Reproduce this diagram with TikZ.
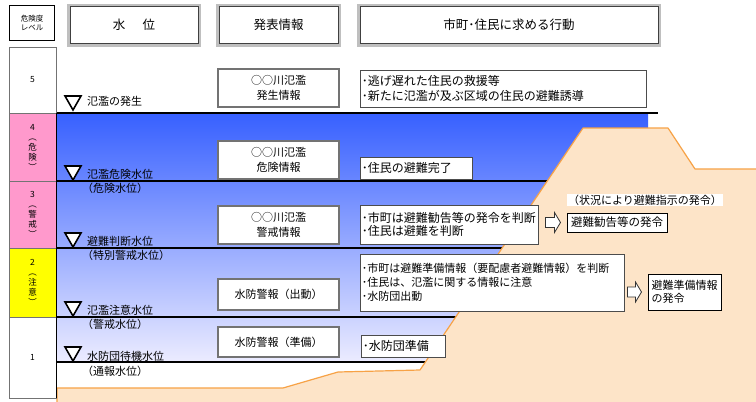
\documentclass[tikz,border=0pt]{standalone}
\usepackage{fontspec}
\setmainfont{Noto Sans CJK JP}
\usetikzlibrary{calc}
\definecolor{peach}{RGB}{253,228,200}
\definecolor{ridge}{RGB}{247,162,70}
\definecolor{lvpink}{RGB}{255,153,204}
\definecolor{lvyellow}{RGB}{255,255,0}
\definecolor{wtop}{RGB}{55,96,255}
\definecolor{wbot}{RGB}{236,236,255}
\newcommand{\mkbarrow}[2]{%
  \draw[barrow] ($(#1)+(0,-5)$) -- ($(#2)+(-6,-5)$) -- ($(#2)+(-6,-10)$) -- (#2)
    -- ($(#2)+(-6,10)$) -- ($(#2)+(-6,5)$) -- ($(#1)+(0,5)$) -- cycle;}
\begin{document}
\begin{tikzpicture}[x=1pt,y=-1pt,
  lvbox/.style={draw=black!55, line width=0.8pt, minimum width=47, minimum height=#1, inner sep=0, font=\fontsize{8.5}{10}\selectfont, align=center},
  hdr/.style={draw=gray!50, line width=3pt, outer sep=0, fill=white, minimum height=40, font=\fontsize{12.5}{14}\selectfont},
  ibox/.style={draw=black!55, line width=1.1pt, fill=white, minimum width=121, align=center, font=\fontsize{11}{14.5}\selectfont},
  abox/.style={draw=black!70, line width=0.9pt, fill=white, inner sep=0},
  atext/.style={anchor=west, align=left, inner sep=0, font=\fontsize{12}{14.5}\selectfont},
  wlab/.style={anchor=west, inner sep=0, font=\fontsize{11}{13}\selectfont},
  wline/.style={line width=1.6pt, black},
  tri/.style={draw=black, line width=1.6pt, fill=white, line join=miter},
  tbox/.style={draw=black, line width=1pt, fill=white, inner xsep=3pt, inner ysep=0, align=left, font=\fontsize{11}{13}\selectfont},
  barrow/.style={draw=black!80, line width=0.8pt, fill=white, line join=miter},
]
\useasboundingbox (0,0) rectangle (756,402);
\fill[white] (0,0) rectangle (756,402);

% water body
\shade[top color=wtop, bottom color=wbot] (57,113) rectangle (648,362);
\draw[wline] (57,113) -- (658,113);
\draw[wline] (57,181) -- (570,181);
\draw[wline] (57,248) -- (530,248);
\draw[wline] (57,317) -- (480,317);
\draw[wline] (57,362) -- (440,362);

% embankment / terrain
\fill[peach] (57,402) -- (57,388) -- (283,388) -- (338,372) -- (420,370) -- (583,128)
  -- (668,128) -- (695,169) -- (756,169) -- (756,402) -- cycle;
\draw[ridge, line width=1.2pt, line join=round] (57,402) -- (57,388) -- (283,388) -- (338,372)
  -- (420,370) -- (583,128) -- (668,128) -- (695,169) -- (756,169);

% level column
\node[draw=black, line width=1.3pt, minimum width=45, minimum height=35, inner sep=0,
  font=\fontsize{7.5}{8.5}\selectfont, align=center] (hlv) at (32,23) {危険度\\レベル};
\node[lvbox=66, fill=white] (l5) at (32.5,80) {5};
\node[lvbox=68, fill=lvpink] (l4) at (32.5,147) {4\\︵\\危\\険\\︶};
\node[lvbox=67, fill=lvpink] (l3) at (32.5,214.5) {3\\︵\\警\\戒\\︶};
\node[lvbox=69, fill=lvyellow] (l2) at (32.5,282.5) {2\\︵\\注\\意\\︶};
\node[lvbox=81, fill=white] (l1) at (32.5,357.5) {1};
\draw[line width=1pt] (l4.north east) -- (l1.south east);

% water level marks
\draw[tri] (65,96) -- (81,96) -- (73,110) -- cycle;
\node[wlab] (w5) at (87,101) {氾濫の発生};
\draw[tri] (65,166) -- (81,166) -- (73,180) -- cycle;
\node[wlab] (w4) at (87,174) {氾濫危険水位};
\node[wlab] (w4b) at (82,188) {（危険水位）};
\draw[tri] (65,233) -- (81,233) -- (73,247) -- cycle;
\node[wlab] (w3) at (87,241) {避難判断水位};
\node[wlab] (w3b) at (82,255) {（特別警戒水位）};
\draw[tri] (65,302) -- (81,302) -- (73,316) -- cycle;
\node[wlab] (w2) at (87,310) {氾濫注意水位};
\node[wlab] (w2b) at (82,324) {（警戒水位）};
\draw[tri] (65,347) -- (81,347) -- (73,361) -- cycle;
\node[wlab] (w1) at (87,356) {水防団待機水位};
\node[wlab] (w1b) at (82,371) {（通報水位）};

% announcement boxes
\node[ibox, minimum height=38] (i5) at (278.5,88) {○○川氾濫\\発生情報};
\node[ibox, minimum height=38] (i4) at (278.5,160) {○○川氾濫\\危険情報};
\node[ibox, minimum height=38] (i3) at (278.5,225) {○○川氾濫\\警戒情報};
\node[ibox, minimum height=31] (i2) at (278.5,294.5) {水防警報（出動）};
\node[ibox, minimum height=30] (i1) at (278.5,342) {水防警報（準備）};

% action boxes
\node[abox, minimum width=286, minimum height=37] (a5) at (503,88.5) {};
\node[atext] (a5t) at ([xshift=2pt]a5.west) {･逃げ遅れた住民の救援等\\･新たに氾濫が及ぶ区域の住民の避難誘導};
\node[abox, minimum width=112, minimum height=22] (a4) at (416,168) {};
\node[atext] (a4t) at ([xshift=2pt]a4.west) {･住民の避難完了};
\node[abox, minimum width=178, minimum height=39] (a3) at (449,224.5) {};
\node[atext, font=\fontsize{12}{13}\selectfont] (a3t) at ([xshift=2pt]a3.west) {･市町は避難勧告等の発令を判断\\･住民は避難を判断};
\node[abox, minimum width=264, minimum height=57] (a2) at (492,282.5) {};
\node[atext, font=\fontsize{11}{14}\selectfont] (a2t) at ([xshift=2pt]a2.west) {･市町は避難準備情報（要配慮者避難情報）を判断\\･住民は、氾濫に関する情報に注意\\･水防団出動};
\node[abox, minimum width=84, minimum height=22] (a1) at (403,346) {};
\node[atext] (a1t) at ([xshift=2pt]a1.west) {･水防団準備};

% targets
\node[fill=white, inner xsep=1pt, inner ysep=1pt, font=\fontsize{11}{13}\selectfont] (n3) at (645,200) {（状況により避難指示の発令）};
\node[tbox, minimum width=100, minimum height=19, font=\fontsize{11.5}{13}\selectfont] (t3) at (617,222.5) {避難勧告等の発令};
\node[tbox, minimum width=73, minimum height=36] (t2) at (684.5,292) {避難準備情報\\の発令};
\coordinate (s3) at ($(a3.east |- t3.west)+(7,0)$);
\coordinate (e3) at ($(t3.west)+(-6,0)$);
\mkbarrow{s3}{e3}
\coordinate (s2) at ($(a2.east |- t2.west)+(3,0)$);
\coordinate (e2) at ($(t2.west)+(-6,0)$);
\mkbarrow{s2}{e2}

% headers
\node[hdr, minimum width=131] (h1) at (134,25) {水\hspace{1.4em}位};
\node[hdr, minimum width=122] (h2) at (278.5,25) {発表情報};
\node[hdr, minimum width=301] (h3) at (509,25) {市町･住民に求める行動};
\foreach \h in {h1,h2,h3}
  \draw[black!75, line width=0.8pt] ([shift={(1.5,1.5)}]\h.north west) rectangle ([shift={(-1.5,-1.5)}]\h.south east);
\end{tikzpicture}
\end{document}
